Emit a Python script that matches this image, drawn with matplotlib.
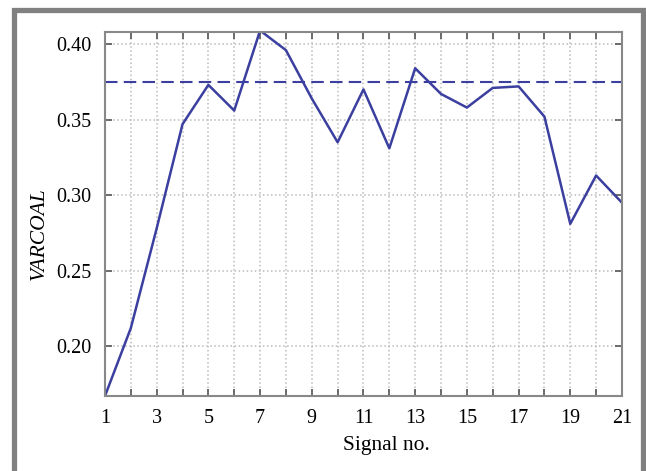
import matplotlib.pyplot as plt
from matplotlib.patches import Rectangle
from matplotlib.ticker import MultipleLocator
import numpy as np

signal_no = list(range(1, 22))
varcoal = [0.167, 0.212, 0.278, 0.347, 0.373, 0.356, 0.409, 0.396, 0.364, 0.335,
           0.370, 0.331, 0.384, 0.367, 0.358, 0.371, 0.372, 0.352, 0.281, 0.313, 0.295]
threshold = 0.375
xtick_labels = list(range(1, 22, 2))

plt.rcParams['font.family'] = ['Liberation Serif', 'DejaVu Serif']

fig = plt.figure(figsize=(6.46, 4.71), dpi=100)
ax = fig.add_axes([0.1625, 0.1592, 0.8003, 0.7728])

col = '#3b3f9f'
ax.plot(signal_no, varcoal, color=col, lw=1.8)
ax.axhline(threshold, color=col, lw=1.5, ls=(0, (6, 3)))

ax.set_xlim(1, 21)
ax.set_ylim(0.167, 0.408)
ax.set_xticks(xtick_labels)
ax.xaxis.set_minor_locator(MultipleLocator(1))
ax.yaxis.set_major_locator(MultipleLocator(0.05))
ax.yaxis.set_major_formatter(plt.FormatStrFormatter('%.2f'))

ax.grid(True, which='both', axis='x', color='#bbbbbb', ls=':', lw=1.1)
ax.grid(True, which='major', axis='y', color='#bbbbbb', ls=':', lw=1.1)

ax.tick_params(which='both', direction='in', top=True, right=True,
               color='#555555', labelsize=14.5)
ax.tick_params(which='both', length=5, width=1.2)
ax.tick_params(axis='x', pad=9)
ax.tick_params(axis='y', pad=10)
for s in ax.spines.values():
    s.set_color('#888888')
    s.set_linewidth(1.5)

ax.set_xlabel('Signal no.', fontsize=15.5)
ax.set_ylabel('VARCOAL', fontsize=15.5, style='italic')
ax.xaxis.set_label_coords(0.5445, -0.110)
ax.yaxis.set_label_coords(-0.108, 0.445)

# grey frame around the figure
fig.patches.append(Rectangle((0.0209, -0.05), 0.9752, 1.0288, transform=fig.transFigure,
                             fill=False, edgecolor='#808080', lw=3.8))

fig.savefig('out.png', dpi=100)
